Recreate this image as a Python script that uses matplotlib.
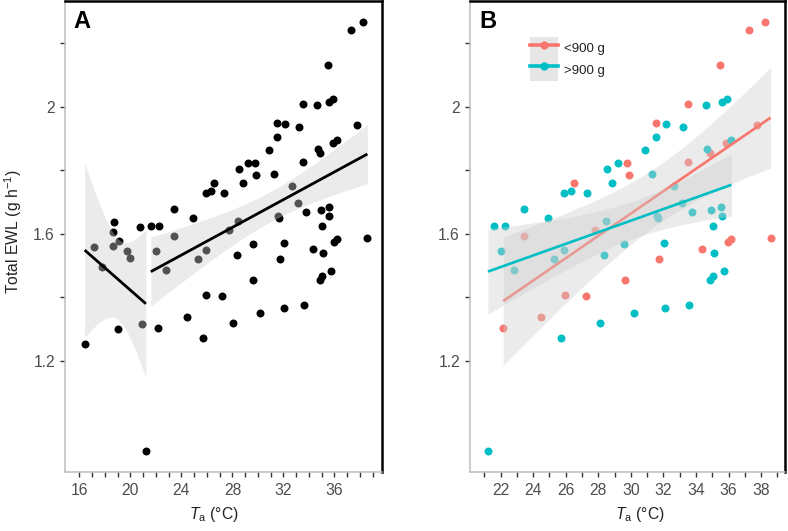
import numpy as np
import matplotlib
matplotlib.use('Agg')
import matplotlib.pyplot as plt
from matplotlib.patches import Patch
from matplotlib.lines import Line2D
from matplotlib.legend_handler import HandlerTuple
from math import gamma, pi, sqrt

plt.rcParams['font.family'] = ['Liberation Sans', 'DejaVu Sans']
plt.rcParams['mathtext.fontset'] = 'custom'
plt.rcParams['mathtext.rm'] = 'Liberation Sans'
plt.rcParams['mathtext.it'] = 'Liberation Sans:italic'
plt.rcParams['mathtext.bf'] = 'Liberation Sans:bold'

# ambient temperature (°C), total EWL (g h-1), body-mass group (S <900 g, L >900 g, '-' not in B)
ta = [38.26, 37.28, 35.48, 33.52, 34.64, 35.60, 35.91, 31.53, 32.16, 33.20,
      37.77, 31.53, 30.90, 34.69, 34.87, 35.87, 36.18, 33.54, 28.53, 29.23,
      29.78, 29.88, 31.29, 28.82, 26.52, 25.92, 26.31, 27.33, 32.68, 33.17,
      23.46, 24.93, 28.47, 27.77, 31.58, 31.64, 33.78, 34.95, 35.55, 35.60,
      35.05, 18.74, 18.61, 20.78, 21.61, 22.26, 23.46, 17.12, 18.61, 19.11,
      19.74, 19.99, 22.03, 25.92, 25.28, 28.35, 29.60, 32.05, 31.74, 34.35,
      35.13, 35.97, 36.18, 38.58, 17.78, 22.81, 29.65, 25.95, 27.22, 30.20,
      32.08, 33.60, 34.85, 35.05, 35.71, 24.46, 28.08, 20.88, 19.00, 22.16,
      25.69, 16.42, 21.22]
ewl = [2.265, 2.241, 2.131, 2.009, 2.005, 2.015, 2.023, 1.950, 1.946, 1.935,
       1.941, 1.904, 1.864, 1.867, 1.855, 1.887, 1.895, 1.827, 1.804, 1.822,
       1.822, 1.785, 1.787, 1.760, 1.760, 1.729, 1.734, 1.728, 1.751, 1.696,
       1.677, 1.650, 1.640, 1.612, 1.656, 1.649, 1.668, 1.675, 1.684, 1.656,
       1.626, 1.638, 1.607, 1.621, 1.625, 1.626, 1.593, 1.560, 1.563, 1.578,
       1.547, 1.523, 1.546, 1.549, 1.522, 1.532, 1.567, 1.572, 1.522, 1.553,
       1.539, 1.573, 1.583, 1.587, 1.495, 1.486, 1.455, 1.407, 1.404, 1.351,
       1.367, 1.376, 1.454, 1.467, 1.484, 1.338, 1.320, 1.317, 1.301, 1.303,
       1.271, 1.254, 0.918]
mass = ['S', 'S', 'S', 'S', 'L', 'L', 'L', 'S', 'L', 'L',
        'S', 'L', 'L', 'L', 'S', 'S', 'L', 'S', 'L', 'L',
        'S', 'S', 'L', 'L', 'S', 'L', 'L', 'L', 'L', 'L',
        'L', 'L', 'L', 'S', 'L', 'L', 'L', 'L', 'L', 'L',
        'L', '-', '-', '-', 'L', 'L', 'S', '-', '-', '-',
        '-', '-', 'L', 'L', 'L', 'L', 'L', 'L', 'S', 'S',
        'L', 'S', 'S', 'S', '-', 'L', 'S', 'S', 'S', 'L',
        'L', 'L', 'L', 'L', 'L', 'S', 'L', '-', '-', 'S',
        'L', '-', 'L']
breakpoint_ta = 21.4
group_labels = ['<900 g', '>900 g']

ta = np.array(ta)
ewl = np.array(ewl)
mass = np.array(mass)

pink = '#F8766D'
cyan = '#00BFC4'
ribbon = '#CFCFCF'
tick_col = '#333333'
lab_col = '#4D4D4D'


def t_crit(df, p=0.975):
    g = np.linspace(0, 8, 80001)
    pdf = gamma((df + 1) / 2) / (sqrt(df * pi) * gamma(df / 2)) * (1 + g**2 / df) ** (-(df + 1) / 2)
    cdf = 0.5 + np.concatenate([[0], np.cumsum((pdf[1:] + pdf[:-1]) / 2 * np.diff(g))])
    return g[np.searchsorted(cdf, p)]


def lm_band(x, y, n=80):
    X = np.column_stack([np.ones_like(x), x])
    beta = np.linalg.lstsq(X, y, rcond=None)[0]
    xs = np.linspace(x.min(), x.max(), n)
    fit = beta[0] + beta[1] * xs
    resid = y - X @ beta
    df = len(x) - 2
    s2 = resid @ resid / df
    xm = x.mean()
    se = np.sqrt(s2 * (1 / len(x) + (xs - xm) ** 2 / ((x - xm) ** 2).sum()))
    t = t_crit(df)
    return xs, fit, fit - t * se, fit + t * se


def style(ax, xlim, xticks, xlabels, lab_x):
    ax.set_xlim(*xlim)
    ax.set_ylim(0.850, 2.334)
    ax.set_xticks(xticks)
    ax.set_xticklabels(xlabels)
    yt = [1.2, 1.4, 1.6, 1.8, 2.0, 2.2]
    ax.set_yticks(yt)
    ax.set_yticklabels(['1.2', '', '1.6', '', '2', ''])
    ax.tick_params(direction='out', length=3.6, width=1.0, color=tick_col,
                   labelcolor=lab_col, labelsize=11.3)
    ax.tick_params(axis='x', pad=4.3)
    ax.tick_params(axis='y', pad=3.6)
    for s in ['left', 'bottom']:
        ax.spines[s].set_color('#BEBEBE')
        ax.spines[s].set_linewidth(1.1)
    for s in ['top', 'right']:
        ax.spines[s].set_color('black')
        ax.spines[s].set_linewidth(1.8)
    ax.set_xlabel(r'$T_{\mathrm{a}}$ (°C)', fontsize=11.3, color='#222222')
    ax.xaxis.set_label_coords(lab_x, -0.069)


fig = plt.figure(figsize=(7.88, 5.31), dpi=100)
bottom = (531 - 472.3) / 531
height = 471.8 / 531
axA = fig.add_axes([65 / 788, bottom, 317.3 / 788, height])
axB = fig.add_axes([470 / 788, bottom, 315.5 / 788, height])

# Panel A: all birds, segmented linear fit
axA.scatter(ta, ewl, s=33, color='black', linewidths=0, zorder=2)
for sel in [ta < breakpoint_ta, ta > breakpoint_ta]:
    xs, fit, lo, hi = lm_band(ta[sel], ewl[sel])
    axA.fill_between(xs, lo, hi, color=ribbon, alpha=0.4, lw=0, zorder=3)
    axA.plot(xs, fit, color='black', lw=2.0, zorder=4, solid_capstyle='butt')

style(axA, (14.88, 39.75), np.arange(16, 40),
      [str(v) if v % 4 == 0 else '' for v in range(16, 40)], 0.47)
axA.set_ylabel('Total EWL (g h$^{-1}$)', fontsize=11.3, color='#222222')
axA.yaxis.label.set_va('center')
axA.yaxis.set_label_coords(-0.163, 0.51)
axA.text(0.025, 0.9417, 'A', transform=axA.transAxes, fontsize=17,
         fontweight='bold', va='baseline', ha='left')

# Panel B: split by body mass
handles = []
z = 2
for code, col in zip(['S', 'L'], [pink, cyan]):
    sel = mass == code
    axB.scatter(ta[sel], ewl[sel], s=33, color=col, linewidths=0, zorder=2)
for code, col in zip(['S', 'L'], [pink, cyan]):
    sel = mass == code
    xs, fit, lo, hi = lm_band(ta[sel], ewl[sel])
    z += 2
    axB.fill_between(xs, lo, hi, color=ribbon, alpha=0.4, lw=0, zorder=z)
    axB.plot(xs, fit, color=col, lw=1.9, zorder=z + 1, solid_capstyle='butt')
    handles.append((Patch(facecolor='#E6E6E6', edgecolor='none'),
                    Line2D([], [], color=col, lw=2.6, marker='o', ms=6, mew=0)))

style(axB, (20.12, 39.50), np.arange(21, 40),
      [str(v) if v % 2 == 0 else '' for v in range(21, 40)], 0.539)
axB.text(0.0295, 0.9417, 'B', transform=axB.transAxes, fontsize=17,
         fontweight='bold', va='baseline', ha='left')
axB.legend(handles, group_labels, handler_map={tuple: HandlerTuple(ndivide=1)},
           loc='upper left', bbox_to_anchor=(0.190, 0.9226), frameon=False,
           borderpad=0, borderaxespad=0, labelspacing=0, handlelength=2.16,
           handleheight=2.16, handletextpad=0.4, fontsize=9.5, labelcolor='#222222')

fig.savefig('out.png', dpi=100, facecolor='white')
